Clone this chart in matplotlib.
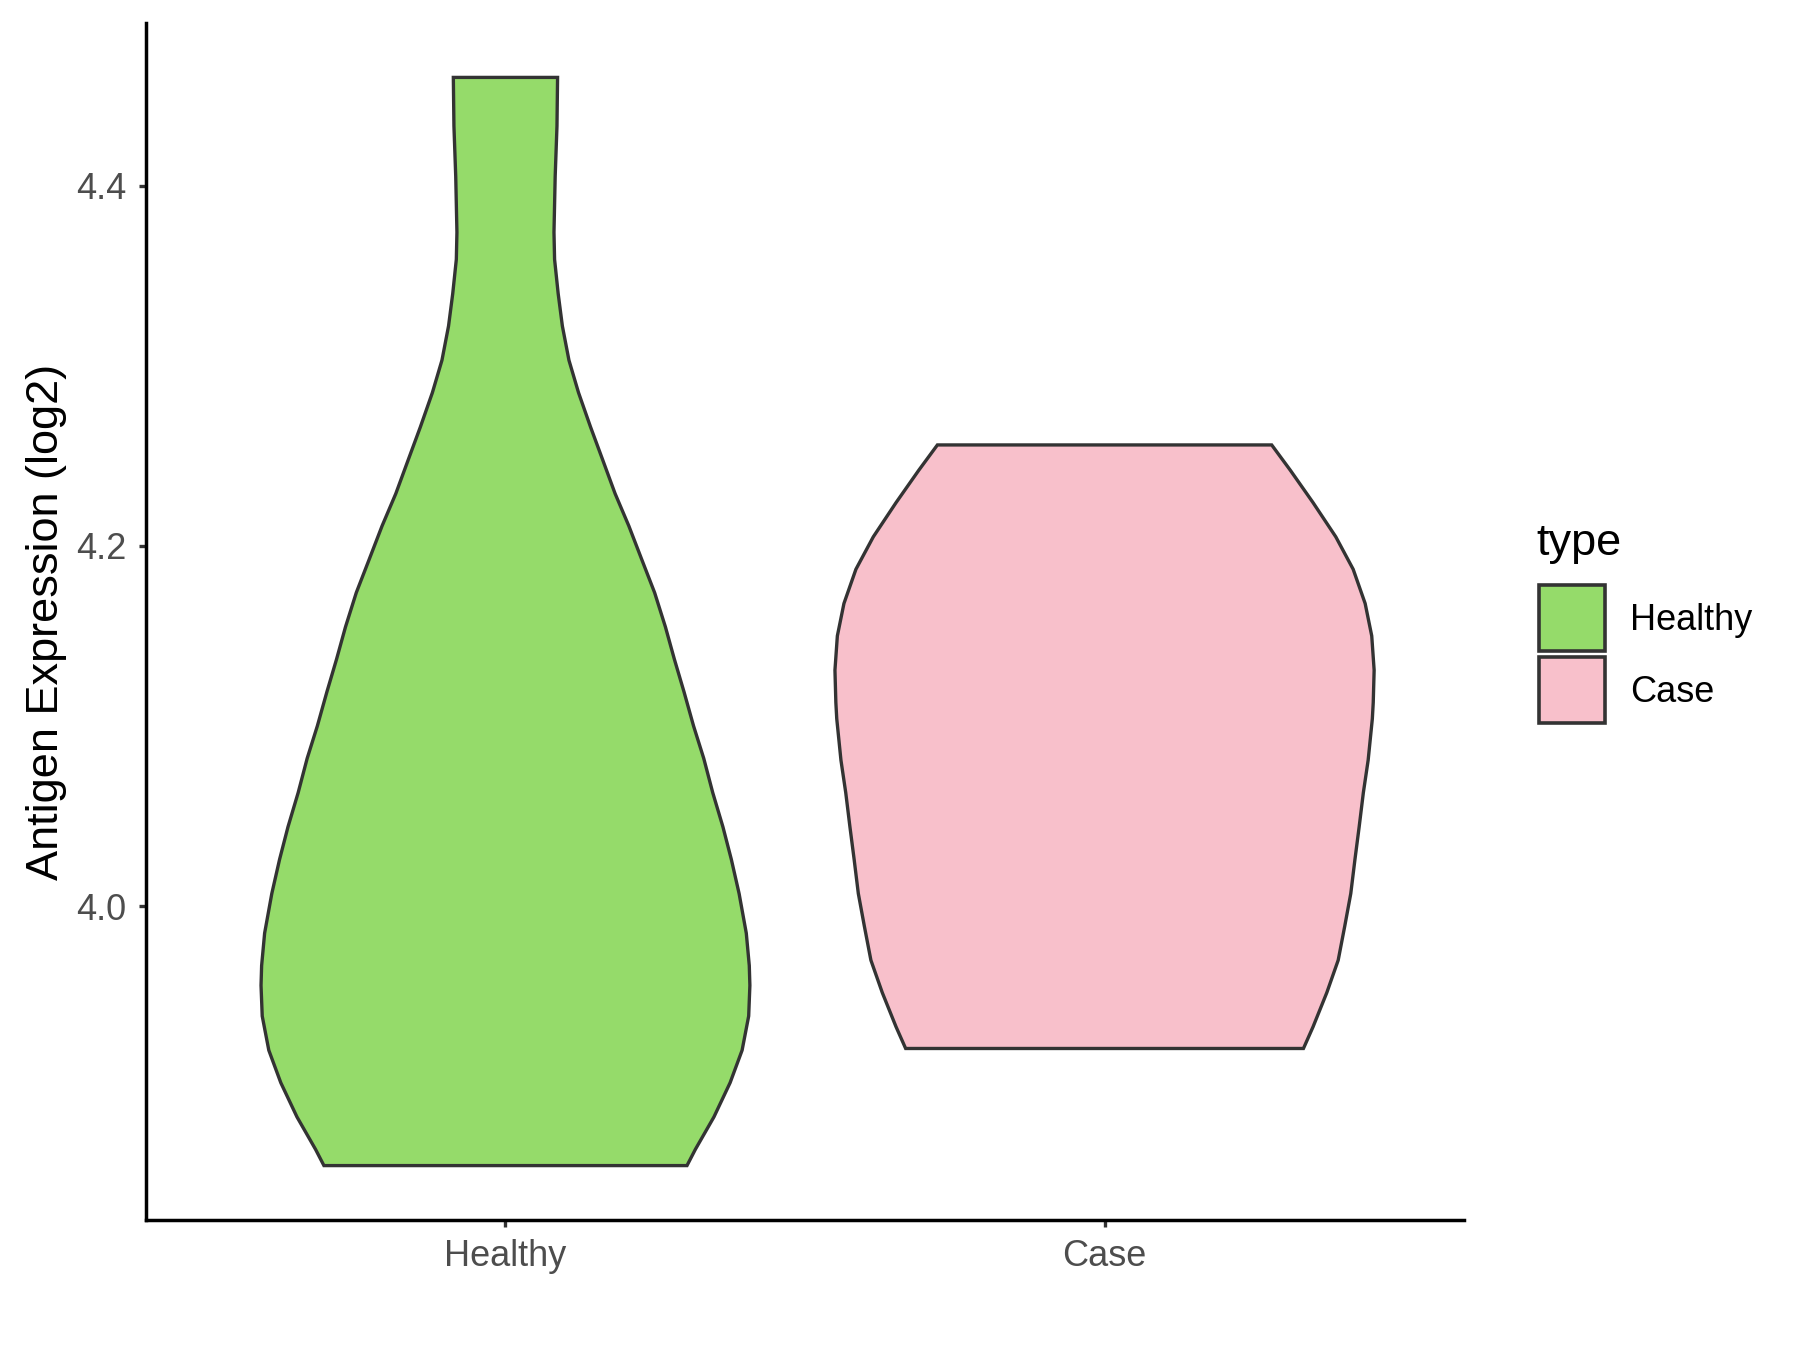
import numpy as np
import matplotlib.pyplot as plt
from matplotlib.patches import Rectangle

plt.rcParams['font.family'] = ['Liberation Sans', 'DejaVu Sans']

groups = ['Healthy', 'Case']
colors = ['#95DB6A', '#F8C0CB']

# violin outlines: expression level and half width (x units)
healthy_y = [3.856, 3.865, 3.883, 3.902, 3.920, 3.939, 3.956, 3.967, 3.985, 4.007,
             4.026, 4.044, 4.063, 4.082, 4.100, 4.119, 4.137, 4.155, 4.174, 4.192,
             4.211, 4.229, 4.248, 4.266, 4.285, 4.303, 4.322, 4.340, 4.359, 4.374,
             4.405, 4.433, 4.460]
healthy_hw = [0.303, 0.317, 0.348, 0.375, 0.395, 0.406, 0.408, 0.407, 0.402, 0.390,
              0.377, 0.363, 0.346, 0.331, 0.314, 0.298, 0.282, 0.267, 0.249, 0.228,
              0.206, 0.183, 0.162, 0.142, 0.122, 0.106, 0.095, 0.088, 0.082, 0.081,
              0.083, 0.086, 0.087]

case_y = [3.921, 3.933, 3.952, 3.970, 3.989, 4.007, 4.026, 4.044, 4.063, 4.081,
          4.104, 4.113, 4.131, 4.150, 4.168, 4.187, 4.205, 4.224, 4.242, 4.256]
case_hw = [0.332, 0.348, 0.371, 0.390, 0.401, 0.411, 0.418, 0.425, 0.432, 0.440,
           0.447, 0.4485, 0.450, 0.446, 0.435, 0.415, 0.386, 0.348, 0.310, 0.279]

W, H = 1800, 1350
fig = plt.figure(figsize=(18, 13.5), dpi=100)
ax = fig.add_axes([146 / W, 1 - 1220 / H, (1464 - 146) / W, (1220 - 23) / H])

profiles = [(healthy_y, healthy_hw), (case_y, case_hw)]
for i, (y, hw) in enumerate(profiles):
    pos = i + 1
    y = np.array(y)
    hw = np.array(hw)
    xs = np.concatenate([pos - hw, (pos + hw)[::-1]])
    ys = np.concatenate([y, y[::-1]])
    ax.fill(xs, ys, facecolor=colors[i], edgecolor='#333333', linewidth=2.4)

all_y = np.concatenate([healthy_y, case_y])
rng = all_y.max() - all_y.min()
ax.set_ylim(all_y.min() - 0.05 * rng, all_y.max() + 0.05 * rng)
ax.set_xlim(0.4, 2.6)

ax.set_xticks([1, 2])
ax.set_xticklabels(groups)
ax.set_yticks([4.0, 4.2, 4.4])
ax.set_yticklabels(['4.0', '4.2', '4.4'])

for s in ['top', 'right']:
    ax.spines[s].set_visible(False)
for s in ['left', 'bottom']:
    ax.spines[s].set_linewidth(2.5)
    ax.spines[s].set_color('black')

ax.tick_params(axis='both', colors='#333333', width=2.4, length=5,
               labelsize=26, labelcolor='#4D4D4D')
ax.tick_params(axis='y', pad=9)
ax.tick_params(axis='x', pad=9)

ax.set_ylabel('Antigen Expression (log2)', fontsize=32.5, color='black')
ax.yaxis.set_label_coords(-0.060, 0.5)

# legend
fig.text(1536 / W, 1 - 555 / H, 'type', fontsize=32.5, ha='left', va='baseline')
key_tops = [585, 657]
for i, g in enumerate(groups):
    fig.add_artist(Rectangle((1538.5 / W, 1 - (key_tops[i] + 66) / H), 66 / W, 66 / H,
                             transform=fig.transFigure, facecolor=colors[i],
                             edgecolor='#333333', linewidth=2.6))
    fig.text(1630 / W, 1 - (key_tops[i] + 45) / H, g, fontsize=26,
             ha='left', va='baseline')

fig.savefig('out.png', dpi=100)
